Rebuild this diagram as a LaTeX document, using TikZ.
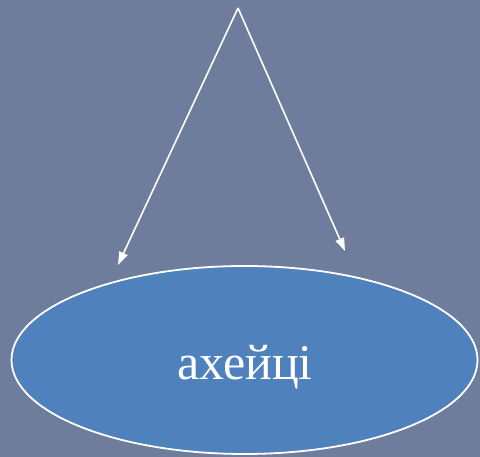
\documentclass[tikz,border=0pt]{standalone}
\usepackage{fontspec}
\setmainfont{Liberation Serif}
\usetikzlibrary{arrows.meta}
\definecolor{bgc}{HTML}{6E7D9B}
\definecolor{ellc}{HTML}{4F81BD}
\tikzset{
  conn/.style={draw=white, line width=1.6pt, -{Triangle[length=13pt,width=9pt]}},
  ell/.style={draw=white, line width=1.8pt, fill=ellc, ellipse, minimum width=466pt, minimum height=188pt, inner sep=0pt}
}
\usetikzlibrary{shapes.geometric}
\begin{document}
\begin{tikzpicture}[x=1pt,y=1pt]
\fill[bgc] (0,0) rectangle (480,457);
\useasboundingbox (0,0) rectangle (480,457);
\coordinate (apex) at (238,449);
\coordinate (lt) at (118,192);
\coordinate (rt) at (345,206);
\node[ell] (e) at (244.5,97) {};
\node[text=white, font=\fontsize{50}{54}\selectfont, anchor=base] (t) at (245,77) {ахейці};
\draw[conn] (apex) -- (lt);
\draw[conn] (apex) -- (rt);
\end{tikzpicture}
\end{document}
